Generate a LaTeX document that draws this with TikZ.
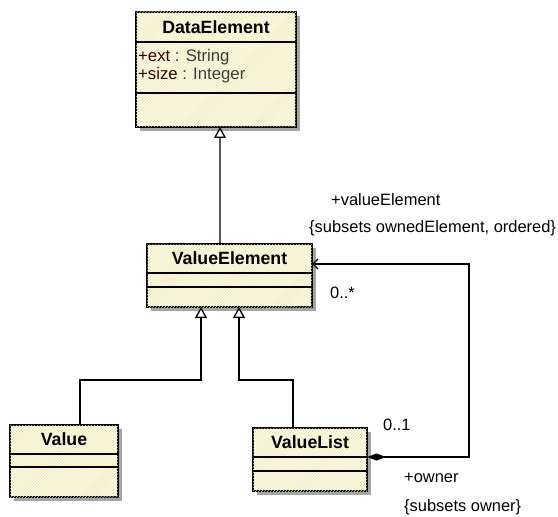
\documentclass[tikz,border=0pt]{standalone}
\usepackage{fontspec}
\setmainfont{Liberation Sans}
\usetikzlibrary{arrows.meta,calc,shadows,patterns}

\definecolor{boxfill}{RGB}{253,251,222}
\definecolor{hatch}{RGB}{232,228,192}
\definecolor{shade}{RGB}{165,165,165}
\definecolor{attrname}{RGB}{50,5,5}
\definecolor{attrtype}{RGB}{60,60,60}

\tikzset{
  classbox/.style={draw, line width=1.3bp, fill=boxfill, outer sep=0pt, inner sep=0pt,
    drop shadow={shadow xshift=4bp, shadow yshift=-4bp, fill=shade, opacity=1},
    postaction={pattern=north east lines, pattern color=hatch}},
  classtitle/.style={font=\fontsize{17.8}{20}\selectfont\bfseries, inner sep=0pt},
  attr/.style={font=\fontsize{16.8}{19}\selectfont, anchor=base west, inner sep=0pt},
  lbl/.style={font=\fontsize{16.5}{19}\selectfont, anchor=base west, inner sep=0pt},
  conn/.style={line width=1.3bp},
  generalize/.style={conn, -{Triangle[open, length=11bp, width=12bp, fill=white]}},
  compose/.style={conn, {Diamond[length=19bp, width=7bp]}-{Straight Barb[length=5bp, width=10bp]}},
}

\begin{document}
\begin{tikzpicture}[x=1bp, y=-1bp]
    \useasboundingbox (0,0) rectangle (558,517);
    % classes: name/title/x/y/width/title, attribute and operation heights
    \foreach \cname/\ctitle/\cx/\cy/\cw/\ta/\tb/\tc in {de/DataElement/136/12/160/30/51/34,
        ve/ValueElement/147/244/165/29/14/20, val/Value/10/425/108/29/13/30,
        vl/ValueList/253/428/114/29/14/20} {
        \node[classbox, anchor=north west, minimum width={\cw*1bp},
            minimum height={(\ta+\tb+\tc)*1bp}] (\cname) at (\cx,\cy) {};
        \node[classtitle] (\cname-t) at ($(\cname.north)+(0,\ta/2)$) {\ctitle};
        \draw[conn] ([yshift={-\ta*1bp}]\cname.north west) -- ([yshift={-\ta*1bp}]\cname.north east);
        \draw[conn] ([yshift={-(\ta+\tb)*1bp}]\cname.north west) -- ([yshift={-(\ta+\tb)*1bp}]\cname.north east);
    }
    \node[attr] (de-a1) at ([xshift=2bp, yshift=-50bp]de.north west)
        {\textcolor{attrname}{+ext} \textcolor{attrtype}{: String}};
    \node[attr] (de-a2) at ([xshift=2bp, yshift=-68bp]de.north west)
        {\textcolor{attrname}{+size} \textcolor{attrtype}{: Integer}};

    \draw[generalize] ([xshift=-9.5bp]ve.north) -- ([xshift=4bp]de.south);
    \draw[generalize] ([xshift=16bp]val.north) -- ++(0,-45) -| ([xshift=-28.5bp]ve.south);
    \draw[generalize] ([xshift=-17bp]vl.north) -- ++(0,-48) -| ([xshift=9.5bp]ve.south);
    \draw[compose] ([yshift=2.5bp]vl.east) -- ++(102,0) |- ([yshift=11.5bp]ve.east);

    \node[lbl] (r-name) at (331,205.5) {+valueElement};
    \node[lbl] (r-cons) at (309,232.5) {\{subsets ownedElement, ordered\}};
    \node[lbl] (r-mult) at (330,298.5) {0..*};
    \node[lbl] (o-mult) at (383,430) {0..1};
    \node[lbl] (o-name) at (404,482) {+owner};
    \node[lbl] (o-cons) at (404,511.5) {\{subsets owner\}};
\end{tikzpicture}
\end{document}
